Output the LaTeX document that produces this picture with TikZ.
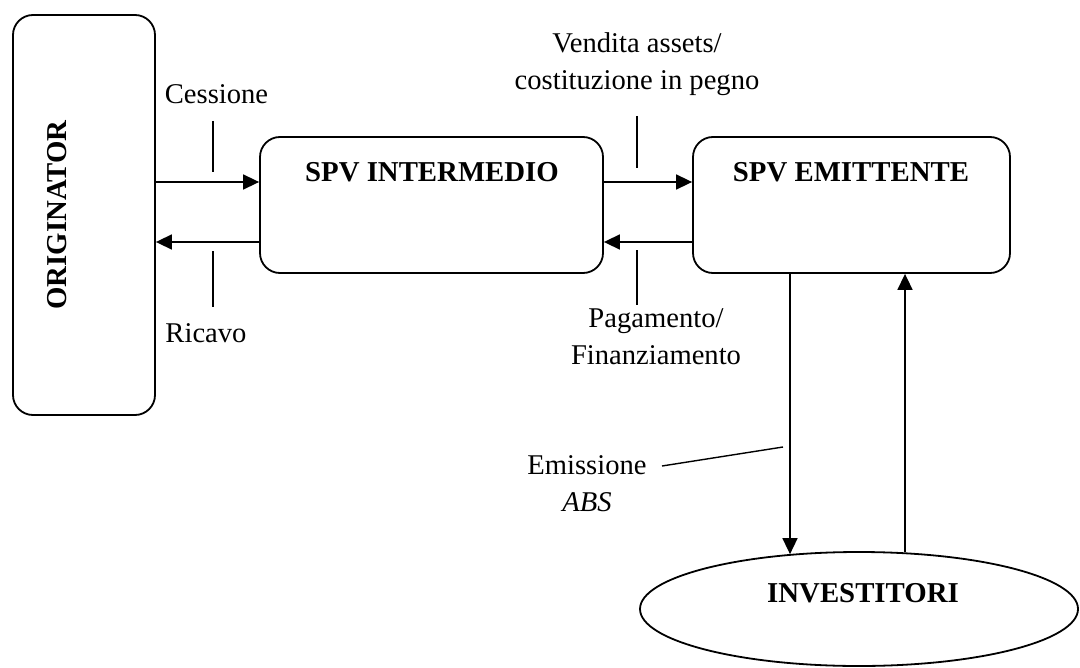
\documentclass[tikz,border=0pt]{standalone}
\usepackage{fontspec}
\setmainfont{Liberation Serif}
\usetikzlibrary{shapes.geometric,arrows.meta,calc}

\begin{document}
\begin{tikzpicture}[x=0.5pt,y=-0.5pt,
  every node/.style={font=\fontsize{14.3}{18.5}\selectfont},
  box/.style={draw, line width=0.9pt, rounded corners=10pt, inner sep=0pt},
  title/.style={font=\fontsize{14.4}{18.5}\selectfont\bfseries},
  lbl/.style={align=center, inner sep=0pt},
  arr/.style={line width=0.8pt, -{Triangle[length=8pt,width=7.5pt]}},
  tick/.style={line width=0.7pt}]
\useasboundingbox (0,0) rectangle (1080,668);

% boxes
\node[box, minimum width=71pt, minimum height=200pt] (orig) at (84,215) {};
\node[box, minimum width=171.5pt, minimum height=68pt] (mid) at (431.5,205) {};
\node[box, minimum width=158.5pt, minimum height=68pt] (emit) at (851.5,205) {};
\node[draw, ellipse, line width=0.9pt, inner sep=0pt,
      minimum width=219pt, minimum height=57pt] (inv) at (859,609) {};

% box titles
\node[title, rotate=90] (origT) at (57,215) {ORIGINATOR};
\node[title] (midT) at (432,172) {SPV INTERMEDIO};
\node[title] (emitT) at (851,172) {SPV EMITTENTE};
\node[title] (invT) at (863,593) {INVESTITORI};

% flow levels
\coordinate (up) at (0,182);
\coordinate (dn) at (0,242);
\coordinate (xd) at (790,0);
\coordinate (xu) at (905,0);

% horizontal flows
\draw[arr] (orig.east |- up) -- (mid.west |- up);
\draw[arr] (mid.west |- dn) -- (orig.east |- dn);
\draw[arr] (mid.east |- up) -- (emit.west |- up);
\draw[arr] (emit.west |- dn) -- (mid.east |- dn);

% vertical flows
\draw[arr] (emit.south -| xd) -- (xd |- inv.142);
\draw[arr] (xu |- inv.50) -- (emit.south -| xu);

% flow labels and their leaders
\node[lbl] (cess) at (216.5,94) {Cessione};
\draw[tick] (213,121) -- (213,172);
\node[lbl] (ric) at (206,333) {Ricavo};
\draw[tick] (213,251) -- (213,307);

\node[lbl] (vend) at (637,64) {Vendita assets/\\costituzione in pegno};
\draw[tick] (637,116) -- (637,168);
\node[lbl] (pag) at (656,337) {Pagamento/\\Finanziamento};
\draw[tick] (637,250) -- (637,305);

\node[lbl] (emis) at (587,484) {Emissione\\\textit{ABS}};
\draw[tick] (662,466) -- (783,447);
\end{tikzpicture}
\end{document}
